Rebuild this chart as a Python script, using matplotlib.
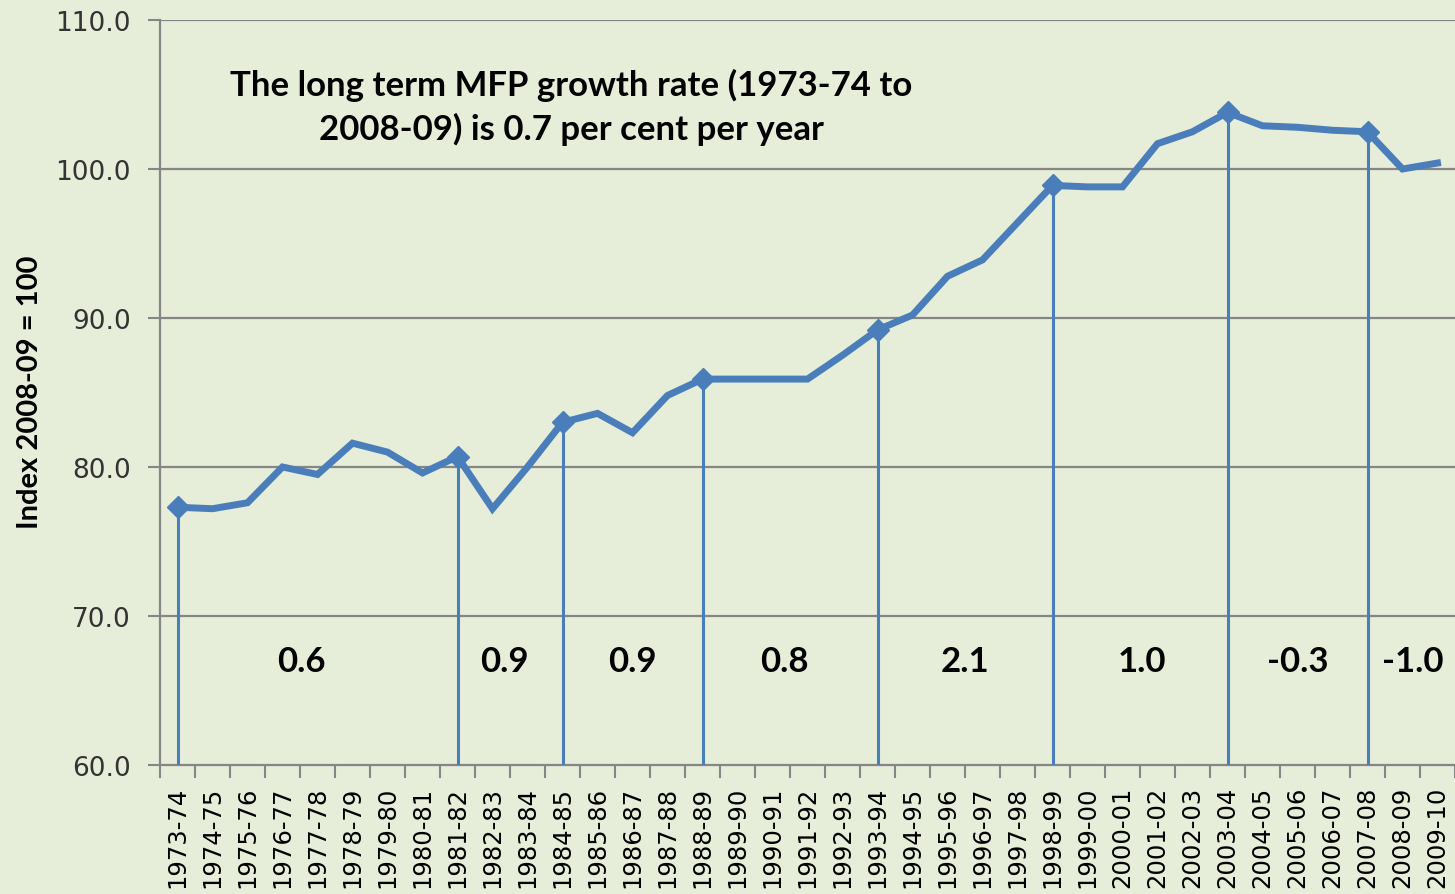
import numpy as np
import matplotlib
matplotlib.use("Agg")
import matplotlib.pyplot as plt

# MFP index, 2008-09 = 100
years = ["1973-74", "1974-75", "1975-76", "1976-77", "1977-78", "1978-79",
         "1979-80", "1980-81", "1981-82", "1982-83", "1983-84", "1984-85",
         "1985-86", "1986-87", "1987-88", "1988-89", "1989-90", "1990-91",
         "1991-92", "1992-93", "1993-94", "1994-95", "1995-96", "1996-97",
         "1997-98", "1998-99", "1999-00", "2000-01", "2001-02", "2002-03",
         "2003-04", "2004-05", "2005-06", "2006-07", "2007-08", "2008-09",
         "2009-10"]
mfp = [77.3, 77.2, 77.6, 80.0, 79.5, 81.6, 81.0, 79.6, 80.7, 77.2,
       80.0, 83.0, 83.6, 82.3, 84.8, 85.9, 85.9, 85.9, 85.9, 87.5,
       89.2, 90.2, 92.8, 93.9, 96.4, 98.9, 98.8, 98.8, 101.7, 102.5,
       103.8, 102.9, 102.8, 102.6, 102.5, 100.0, 100.4]

# productivity cycle peaks and growth rate for each cycle
peaks = ["1973-74", "1981-82", "1984-85", "1988-89", "1993-94",
         "1998-99", "2003-04", "2007-08"]
cycle_rates = ["0.6", "0.9", "0.9", "0.8", "2.1", "1.0", "-0.3", "-1.0"]

# where the rate labels sit (category units)
rate_x = [3.55, 9.35, 13.0, 17.35, 22.5, 27.55, 32.0, 35.3]
rate_y = 67.0

bg = "#E6EDD8"
blue = "#4A7EBB"
grey = "#868686"

fig = plt.figure(figsize=(14.55, 8.95), dpi=100, facecolor=bg)
ax = fig.add_axes([160 / 1455, 1 - 766 / 895, 1 - 160 / 1455, (766 - 21) / 895])
ax.set_facecolor(bg)

x = np.arange(len(years))
y = np.array(mfp)
pk = np.array([years.index(p) for p in peaks])

ax.vlines(x[pk], 60, y[pk], color=blue, lw=2.2, zorder=3)
ax.plot(x, y, color=blue, lw=5, solid_joinstyle="miter", zorder=4)
ax.plot(x[pk], y[pk], "D", color=blue, ms=11, mec=blue, zorder=5)

ax.set_xlim(-0.5, len(years) - 0.5)
ax.set_ylim(60, 110)
ax.set_yticks(np.arange(60, 111, 10))
ax.set_yticklabels(["%.1f" % v for v in np.arange(60, 111, 10)])
for v in range(70, 111, 10):
    ax.axhline(v, color=grey, lw=1.6, zorder=1)

ax.set_xticks(x)
ax.set_xticklabels(years, rotation=90)
ax.set_xticks(np.arange(-0.5, len(years), 1), minor=True)
ax.tick_params(axis="x", which="major", length=0, pad=15, labelsize=17.5,
               labelcolor="black")
ax.tick_params(axis="x", which="minor", length=9, width=1.5, color=grey)
ax.tick_params(axis="y", length=9, width=1.5, color=grey, pad=12,
               labelsize=19, labelcolor="#333333")

for s in ["top", "right"]:
    ax.spines[s].set_visible(False)
for s in ["left", "bottom"]:
    ax.spines[s].set_color(grey)
    ax.spines[s].set_linewidth(1.6)

for rx, r in zip(rate_x, cycle_rates):
    ax.text(rx, rate_y, r, ha="center", va="center", fontsize=25,
            fontweight="bold", family="Lato")

ax.text(11.25, 104.2, "The long term MFP growth rate (1973-74 to\n"
        "2008-09) is 0.7 per cent per year", ha="center", va="center",
        multialignment="center", fontsize=25, fontweight="bold",
        family="Lato", linespacing=1.42)

fig.text(30 / 1455, 1 - 392 / 895, "Index 2008-09 = 100", rotation=90,
         ha="center", va="center", fontsize=21, fontweight="bold",
         family="Lato")

fig.savefig("out.png", dpi=100, facecolor=bg)
